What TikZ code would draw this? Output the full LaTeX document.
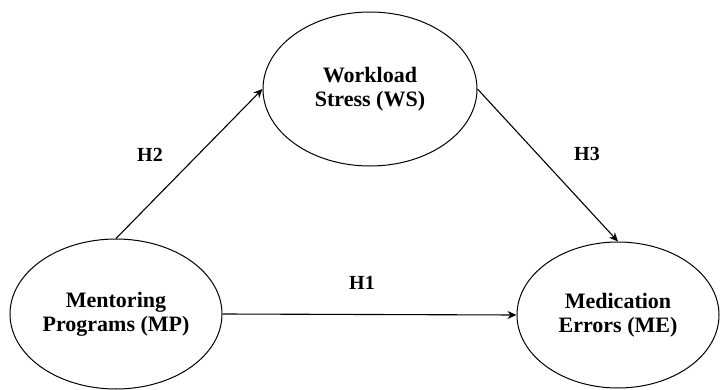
\documentclass[tikz,border=0pt]{standalone}
\usepackage{fontspec}
\setmainfont{Liberation Serif}
\usetikzlibrary{arrows.meta,shapes.geometric}

\begin{document}
\begin{tikzpicture}[x=1pt,y=1pt,
  construct/.style={draw,ellipse,line width=1pt,inner sep=0pt,align=center,font=\fontsize{22}{24}\selectfont\bfseries},
  hyp/.style={font=\fontsize{20}{22}\selectfont\bfseries},
  path/.style={-{Stealth[length=9pt,width=8pt]},line width=1.1pt}]
\useasboundingbox (0,0) rectangle (720,389);
\node[construct,minimum width=212pt,minimum height=150pt] (mp) at (116,75) {Mentoring\\ Programs (MP)};
\node[construct,minimum width=214pt,minimum height=154pt] (ws) at (370,300) {Workload\\ Stress (WS)};
\node[construct,minimum width=202pt,minimum height=146pt] (me) at (618,74) {Medication\\ Errors (ME)};
\draw[path] (mp.east) -- (me.west);
\draw[path] (mp.north) -- (ws.west);
\draw[path] (ws.east) -- (me.north);
\node[hyp] (h1) at (362,106) {H1};
\node[hyp] (h2) at (150,234) {H2};
\node[hyp] (h3) at (587,235) {H3};
\end{tikzpicture}
\end{document}
